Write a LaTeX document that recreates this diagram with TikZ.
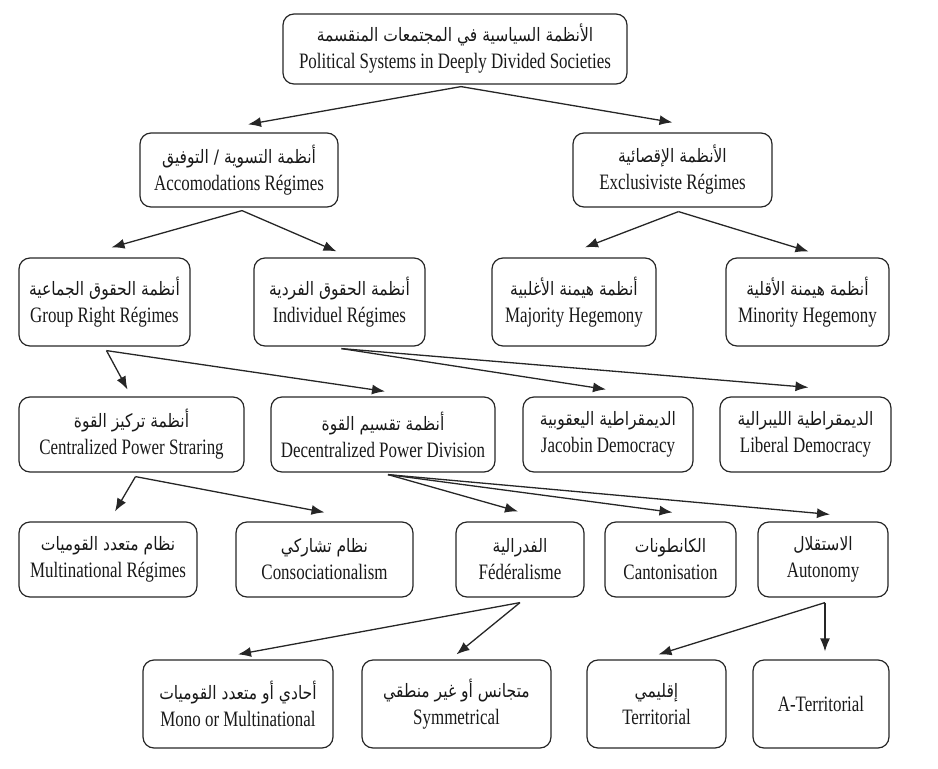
\documentclass[tikz,border=0pt]{standalone}
\usepackage{fontspec}
\setmainfont[FakeStretch=0.77]{Liberation Serif}
\newfontfamily\arabicfont[Script=Arabic,FakeStretch=0.84]{DejaVu Sans}
\TeXXeTstate=1
\usetikzlibrary{arrows.meta}
\newcommand{\artxt}[1]{{\arabicfont\fontsize{18.5}{20}\selectfont\beginR #1\endR}}
\tikzset{
  box/.style={draw=black!85, line width=1.2pt, rounded corners=11pt, align=center,
    inner sep=0pt, font=\fontsize{22}{27}\selectfont, text=black!90},
  arr/.style={draw=black!85, line width=1.3pt, -{Latex[length=13pt,width=10pt]}}
}
\begin{document}
\begin{tikzpicture}[x=1pt,y=-1pt]
\useasboundingbox (0,0) rectangle (938,769);
% row 1
\node[box, minimum width=344pt, minimum height=70pt] (top) at (455,49)
  {\artxt{الأنظمة السياسية في المجتمعات المنقسمة}\\Political Systems in Deeply Divided Societies};
% row 2
\node[box, minimum width=198pt, minimum height=74pt] (acc) at (239,170)
  {\artxt{أنظمة التسوية / التوفيق}\\Accomodations Régimes};
\node[box, minimum width=199pt, minimum height=74pt] (exc) at (672.5,170)
  {\artxt{الأنظمة الإقصائية}\\Exclusiviste Régimes};
% row 3
\node[box, minimum width=171pt, minimum height=88pt] (group) at (104.5,302)
  {\artxt{أنظمة الحقوق الجماعية}\\Group Right Régimes};
\node[box, minimum width=171pt, minimum height=88pt] (indiv) at (339.5,302)
  {\artxt{أنظمة الحقوق الفردية}\\Individuel Régimes};
\node[box, minimum width=164pt, minimum height=88pt] (maj) at (574,302)
  {\artxt{أنظمة هيمنة الأغلبية}\\Majority Hegemony};
\node[box, minimum width=163pt, minimum height=88pt] (min) at (807.5,302)
  {\artxt{أنظمة هيمنة الأقلية}\\Minority Hegemony};
% row 4
\node[box, minimum width=225pt, minimum height=75pt] (cent) at (131.5,434.5)
  {\artxt{أنظمة تركيز القوة}\\Centralized Power Straring};
\node[box, minimum width=224pt, minimum height=75pt] (dec) at (383,434.5)
  {\artxt{أنظمة تقسيم القوة}\\Decentralized Power Division};
\node[box, minimum width=170pt, minimum height=75pt] (jac) at (608,434.5)
  {\artxt{الديمقراطية اليعقوبية}\\Jacobin Democracy};
\node[box, minimum width=171pt, minimum height=75pt] (lib) at (805.5,434.5)
  {\artxt{الديمقراطية الليبرالية}\\Liberal Democracy};
% row 5
\node[box, minimum width=178pt, minimum height=75pt] (multi) at (108,559.5)
  {\artxt{نظام متعدد القوميات}\\Multinational Régimes};
\node[box, minimum width=177pt, minimum height=75pt] (conso) at (324.5,559.5)
  {\artxt{نظام تشاركي}\\Consociationalism};
\node[box, minimum width=128pt, minimum height=75pt] (fed) at (520,559.5)
  {\artxt{الفدرالية}\\Fédéralisme};
\node[box, minimum width=131pt, minimum height=75pt] (canton) at (670.5,559.5)
  {\artxt{الكانطونات}\\Cantonisation};
\node[box, minimum width=130pt, minimum height=75pt] (auto) at (823,559.5)
  {\artxt{الاستقلال}\\Autonomy};
% row 6
\node[box, minimum width=190pt, minimum height=88pt] (mono) at (238,704)
  {\artxt{أحادي أو متعدد القوميات}\\Mono or Multinational};
\node[box, minimum width=189pt, minimum height=88pt] (sym) at (456.5,704)
  {\artxt{متجانس أو غير منطقي}\\Symmetrical};
\node[box, minimum width=139pt, minimum height=88pt] (terr) at (656.5,704)
  {\artxt{إقليمي}\\Territorial};
\node[box, minimum width=136pt, minimum height=88pt] (aterr) at (821,704)
  {A-Territorial};
% arrows
\draw[arr] ([xshift=6pt,yshift=-2pt]top.south) -- ([xshift=9pt,yshift=8pt]acc.north);
\draw[arr] ([xshift=6pt,yshift=-2pt]top.south) -- ([xshift=0pt,yshift=10pt]exc.north);
\draw[arr] ([xshift=3pt,yshift=-3pt]acc.south) -- ([xshift=7pt,yshift=10pt]group.north);
\draw[arr] ([xshift=3pt,yshift=-3pt]acc.south) -- ([xshift=-3pt,yshift=6pt]indiv.north);
\draw[arr] ([xshift=6pt,yshift=-4pt]exc.south) -- ([xshift=11pt,yshift=10pt]maj.north);
\draw[arr] ([xshift=6pt,yshift=-4pt]exc.south) -- ([xshift=1pt,yshift=6pt]min.north);
\draw[arr] ([xshift=2pt,yshift=-4pt]group.south) -- ([xshift=-4pt,yshift=7pt]cent.north);
\draw[arr] ([xshift=2pt,yshift=-4pt]group.south) -- ([xshift=2pt,yshift=5pt]dec.north);
\draw[arr] ([xshift=2pt,yshift=-2pt]indiv.south) -- ([xshift=-2pt,yshift=7pt]jac.north);
\draw[arr] ([xshift=2pt,yshift=-2pt]indiv.south) -- ([xshift=3pt,yshift=9pt]lib.north);
\draw[arr] ([xshift=4pt,yshift=-4pt]cent.south) -- ([xshift=7pt,yshift=10pt]multi.north);
\draw[arr] ([xshift=4pt,yshift=-4pt]cent.south) -- ([xshift=0pt,yshift=9pt]conso.north);
\draw[arr] ([xshift=5pt,yshift=-2pt]dec.south) -- ([xshift=-2pt,yshift=10pt]fed.north);
\draw[arr] ([xshift=5pt,yshift=-2pt]dec.south) -- ([xshift=2pt,yshift=9pt]canton.north);
\draw[arr] ([xshift=5pt,yshift=-2pt]dec.south) -- ([xshift=7pt,yshift=7pt]auto.north);
\draw[arr] ([yshift=-5pt]fed.south) -- ([yshift=5pt]mono.north);
\draw[arr] ([yshift=-5pt]fed.south) -- ([yshift=5pt]sym.north);
\draw[arr] ([xshift=2pt,yshift=-5pt]auto.south) -- ([xshift=2pt,yshift=5pt]terr.north);
\draw[arr] ([xshift=2pt,yshift=-5pt]auto.south) -- ([xshift=4pt,yshift=8pt]aterr.north);
\end{tikzpicture}
\end{document}
